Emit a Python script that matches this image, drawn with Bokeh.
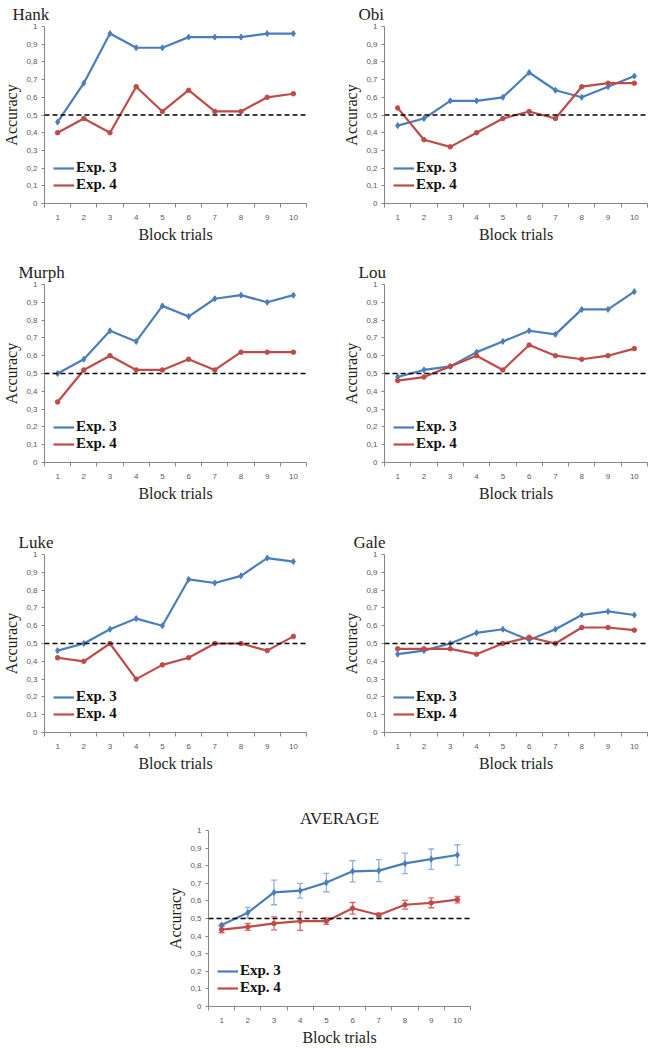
from bokeh.plotting import figure
from bokeh.models import (Range1d, FixedTicker, Span, Legend, LegendItem,
                          ColumnDataSource, Whisker, TeeHead, Spacer)
from bokeh.layouts import column, row
from bokeh.embed import file_html
from bokeh.resources import INLINE

# ---------------- data ----------------
blocks = [1, 2, 3, 4, 5, 6, 7, 8, 9, 10]
y_ticks = [0, 0.1, 0.2, 0.3, 0.4, 0.5, 0.6, 0.7, 0.8, 0.9, 1]
y_tick_labels = ["0", "0,1", "0,2", "0,3", "0,4", "0,5", "0,6", "0,7", "0,8", "0,9", "1"]
chance_level = 0.5

hank_exp3 = [0.46, 0.68, 0.96, 0.88, 0.88, 0.94, 0.94, 0.94, 0.96, 0.96]
hank_exp4 = [0.40, 0.48, 0.40, 0.66, 0.52, 0.64, 0.52, 0.52, 0.60, 0.62]

obi_exp3 = [0.44, 0.48, 0.58, 0.58, 0.60, 0.74, 0.64, 0.60, 0.66, 0.72]
obi_exp4 = [0.54, 0.36, 0.32, 0.40, 0.48, 0.52, 0.48, 0.66, 0.68, 0.68]

murph_exp3 = [0.50, 0.58, 0.74, 0.68, 0.88, 0.82, 0.92, 0.94, 0.90, 0.94]
murph_exp4 = [0.34, 0.52, 0.60, 0.52, 0.52, 0.58, 0.52, 0.62, 0.62, 0.62]

lou_exp3 = [0.48, 0.52, 0.54, 0.62, 0.68, 0.74, 0.72, 0.86, 0.86, 0.96]
lou_exp4 = [0.46, 0.48, 0.54, 0.60, 0.52, 0.66, 0.60, 0.58, 0.60, 0.64]

luke_exp3 = [0.46, 0.50, 0.58, 0.64, 0.60, 0.86, 0.84, 0.88, 0.98, 0.96]
luke_exp4 = [0.42, 0.40, 0.50, 0.30, 0.38, 0.42, 0.50, 0.50, 0.46, 0.54]

gale_exp3 = [0.44, 0.46, 0.50, 0.56, 0.58, 0.52, 0.58, 0.66, 0.68, 0.66]
gale_exp4 = [0.47, 0.47, 0.47, 0.44, 0.50, 0.535, 0.50, 0.59, 0.59, 0.575]

avg_exp3 = [0.463, 0.533, 0.648, 0.658, 0.704, 0.768, 0.772, 0.813, 0.837, 0.861]
avg_exp3_err = [0.0, 0.03, 0.07, 0.042, 0.052, 0.06, 0.063, 0.058, 0.058, 0.058]
avg_exp4 = [0.437, 0.452, 0.472, 0.485, 0.485, 0.558, 0.52, 0.578, 0.589, 0.607]
avg_exp4_err = [0.018, 0.02, 0.037, 0.053, 0.018, 0.033, 0.01, 0.025, 0.028, 0.018]

BLUE = "#4A7EBB"
RED = "#BE4B48"
AXIS = "#868686"
TICK_TXT = "#595959"
SERIF = "Liberation Serif"


def make_panel(name, exp3, exp4, width, bl, br, height, bt, bb,
               err3=None, err4=None, title_align="left", title_offset=-28,
               title_standoff=5):
    p = figure(width=width, height=height, x_range=Range1d(0.5, 10.5),
               y_range=Range1d(0, 1), output_backend="svg",
               toolbar_location=None, min_border_left=bl, min_border_right=br,
               min_border_top=bt, min_border_bottom=bb, title=name)
    p.title.text_font = SERIF
    p.title.text_font_size = "17px"
    p.title.text_font_style = "normal"
    p.title.text_color = "#222222"
    p.title.align = title_align
    p.title.offset = title_offset
    p.title.standoff = title_standoff
    p.outline_line_color = None
    p.background_fill_color = "white"
    p.border_fill_color = "white"
    p.xgrid.visible = False
    p.ygrid.visible = False

    # axes
    xa = p.xaxis[0]
    xa.ticker = FixedTicker(ticks=blocks,
                            minor_ticks=[b - 0.5 for b in blocks] + [blocks[-1] + 0.5])
    xa.major_tick_in = 0
    xa.major_tick_out = 0
    xa.minor_tick_in = 0
    xa.minor_tick_out = 4
    xa.axis_line_color = AXIS
    xa.minor_tick_line_color = AXIS
    xa.major_label_text_font = "Liberation Sans"
    xa.major_label_text_font_size = "8px"
    xa.major_label_text_color = TICK_TXT
    xa.major_label_standoff = 7
    xa.axis_label = "Block trials"
    xa.axis_label_text_font = SERIF
    xa.axis_label_text_font_size = "16px"
    xa.axis_label_text_font_style = "normal"
    xa.axis_label_text_color = "#222222"
    xa.axis_label_standoff = 3

    ya = p.yaxis[0]
    ya.ticker = FixedTicker(ticks=y_ticks)
    ya.major_label_overrides = dict(zip(y_ticks, y_tick_labels))
    ya.minor_tick_in = 0
    ya.minor_tick_out = 0
    ya.major_tick_in = 0
    ya.major_tick_out = 3
    ya.axis_line_color = AXIS
    ya.major_tick_line_color = AXIS
    ya.major_label_text_font = "Liberation Sans"
    ya.major_label_text_font_size = "8px"
    ya.major_label_text_color = TICK_TXT
    ya.major_label_standoff = 4
    ya.axis_label = "Accuracy"
    ya.axis_label_text_font = SERIF
    ya.axis_label_text_font_size = "16px"
    ya.axis_label_text_font_style = "normal"
    ya.axis_label_text_color = "#222222"
    ya.axis_label_standoff = 3

    p.add_layout(Span(location=chance_level, dimension="width", line_color="black",
                      line_width=1.5, line_dash="5 3"))

    if err3 is not None:
        s3 = ColumnDataSource(dict(x=blocks,
                                   upper=[v + e for v, e in zip(exp3, err3)],
                                   lower=[v - e for v, e in zip(exp3, err3)]))
        p.add_layout(Whisker(base="x", upper="upper", lower="lower", source=s3,
                             line_color="#8FB3DE", line_width=1.3,
                             upper_head=TeeHead(size=6, line_color="#8FB3DE", line_width=1.3),
                             lower_head=TeeHead(size=6, line_color="#8FB3DE", line_width=1.3)))
    if err4 is not None:
        s4 = ColumnDataSource(dict(x=blocks,
                                   upper=[v + e for v, e in zip(exp4, err4)],
                                   lower=[v - e for v, e in zip(exp4, err4)]))
        p.add_layout(Whisker(base="x", upper="upper", lower="lower", source=s4,
                             line_color="#E06666", line_width=1.3,
                             upper_head=TeeHead(size=6, line_color="#E06666", line_width=1.3),
                             lower_head=TeeHead(size=6, line_color="#E06666", line_width=1.3)))

    l3 = p.line(blocks, exp3, line_color=BLUE, line_width=2.2)
    p.scatter(blocks, exp3, marker="diamond", size=6, fill_color=BLUE, line_color=BLUE)
    l4 = p.line(blocks, exp4, line_color=RED, line_width=2.2)
    p.scatter(blocks, exp4, marker="circle", size=4.5, fill_color=RED, line_color=RED)

    leg = Legend(items=[LegendItem(label="Exp. 3", renderers=[l3]),
                        LegendItem(label="Exp. 4", renderers=[l4])],
                 location=(9, 10), orientation="vertical",
                 label_text_font=SERIF, label_text_font_size="15px",
                 label_text_font_style="bold", label_text_color="#111111",
                 glyph_width=21, glyph_height=16, label_height=16,
                 label_standoff=2, spacing=0, padding=0, margin=0,
                 border_line_alpha=0, background_fill_alpha=0)
    p.add_layout(leg)
    return p


# left column: frame 43..306 ; right column: frame 384..647
LW, LBL, LBR = 322, 43, 16
RW, RBL, RBR = 327, 62, 2

p1 = make_panel("Hank", hank_exp3, hank_exp4, LW, LBL, LBR, 258, 24, 55, title_offset=-32)
p2 = make_panel("Obi", obi_exp3, obi_exp4, RW, RBL, RBR, 258, 24, 55, title_offset=-26)
p3 = make_panel("Murph", murph_exp3, murph_exp4, LW, LBL, LBR, 270, 24, 66, title_offset=-26)
p4 = make_panel("Lou", lou_exp3, lou_exp4, RW, RBL, RBR, 270, 24, 66, title_offset=-26)
p5 = make_panel("Luke", luke_exp3, luke_exp4, LW, LBL, LBR, 262, 24, 58, title_offset=-26)
p6 = make_panel("Gale", gale_exp3, gale_exp4, RW, RBL, RBR, 262, 24, 58, title_offset=-31)
p7 = make_panel("AVERAGE", avg_exp3, avg_exp4, 322, 58, 2, 258, 40, 40,
                err3=avg_exp3_err, err4=avg_exp4_err, title_align="center",
                title_offset=0, title_standoff=6)

layout = column(row(p1, p2), row(p3, p4), row(p5, p6),
                row(Spacer(width=150, height=258), p7))

open("out.html", "w").write(file_html(layout, INLINE))
